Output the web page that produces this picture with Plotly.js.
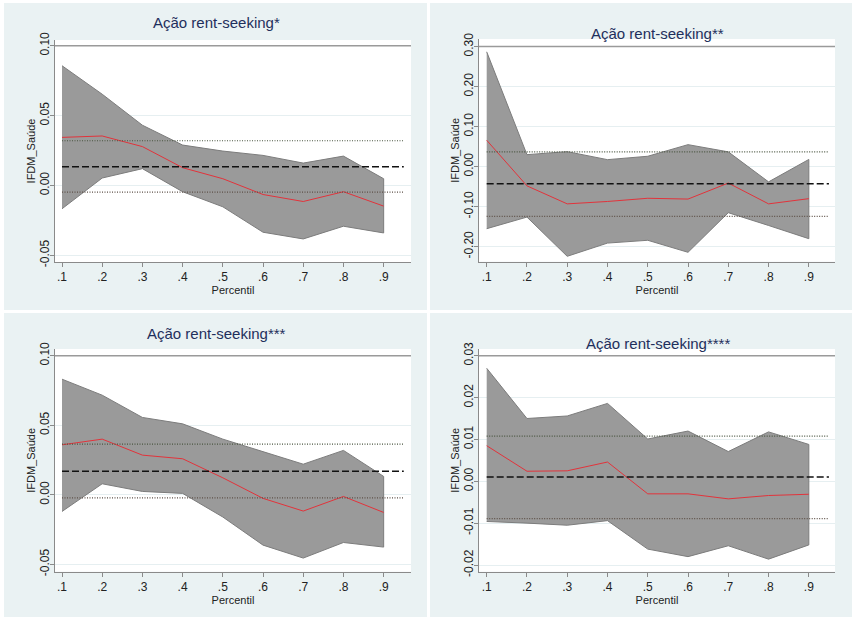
<!DOCTYPE html>
<html>
<head>
<meta charset="utf-8">
<script src="https://cdn.plot.ly/plotly-3.0.1.min.js"></script>
<style>html,body{margin:0;padding:0;background:#fff;}#chart{width:852px;height:617px;}</style>
</head>
<body>
<div id="chart"></div>
<script>
// ---- data ----
const pct = [0.1, 0.2, 0.3, 0.4, 0.5, 0.6, 0.7, 0.8, 0.9];
const xTickText = ['.1', '.2', '.3', '.4', '.5', '.6', '.7', '.8', '.9'];
const olsSpan = [0.1, 0.95];

const titles = ['Ação rent-seeking*', 'Ação rent-seeking**', 'Ação rent-seeking***', 'Ação rent-seeking****'];

// Panel 1
const coef1  = [0.0344, 0.0354, 0.0278, 0.0127, 0.0048, -0.0065, -0.0115, -0.0045, -0.0148];
const upper1 = [0.0857, 0.0653, 0.0431, 0.0289, 0.0246, 0.0215, 0.0160, 0.0210, 0.0048];
const lower1 = [-0.0167, 0.0053, 0.0120, -0.0045, -0.0153, -0.0335, -0.0383, -0.0292, -0.0340];
const ols1 = [0.0320, 0.0134, -0.0048]; // upper CI, estimate, lower CI
const yTicks1 = [-0.05, 0.00, 0.05, 0.10];
const yTickText1 = ['-0.05', '0.00', '0.05', '0.10'];

// Panel 2
const coef2  = [0.066, -0.048, -0.093, -0.087, -0.079, -0.081, -0.041, -0.093, -0.080];
const upper2 = [0.287, 0.030, 0.0375, 0.0175, 0.026, 0.055, 0.037, -0.038, 0.018];
const lower2 = [-0.155, -0.126, -0.224, -0.191, -0.184, -0.214, -0.115, -0.147, -0.180];
const ols2 = [0.037, -0.043, -0.124];
const yTicks2 = [-0.20, -0.10, 0.00, 0.10, 0.20, 0.30];
const yTickText2 = ['-0.20', '-0.10', '0.00', '0.10', '0.20', '0.30'];

// Panel 3
const coef3  = [0.0359, 0.0400, 0.0285, 0.0259, 0.0122, -0.0026, -0.0117, -0.0012, -0.0127];
const upper3 = [0.0831, 0.0716, 0.0556, 0.0510, 0.0400, 0.0311, 0.0220, 0.0319, 0.0132];
const lower3 = [-0.0120, 0.0079, 0.0024, 0.0010, -0.0160, -0.0362, -0.0455, -0.0343, -0.0376];
const ols3 = [0.0364, 0.0170, -0.0022];
const yTicks3 = [-0.05, 0.00, 0.05, 0.10];
const yTickText3 = ['-0.05', '0.00', '0.05', '0.10'];

// Panel 4
const coef4  = [0.0085, 0.0024, 0.0025, 0.0046, -0.0030, -0.0030, -0.0042, -0.0034, -0.0031];
const upper4 = [0.0270, 0.0150, 0.0156, 0.0186, 0.0101, 0.0120, 0.0071, 0.0118, 0.0088];
const lower4 = [-0.0096, -0.0100, -0.0105, -0.0094, -0.0162, -0.0180, -0.0154, -0.0186, -0.0152];
const ols4 = [0.0108, 0.0010, -0.0089];
const yTicks4 = [-0.02, -0.01, 0.00, 0.01, 0.02, 0.03];
const yTickText4 = ['-0.02', '-0.01', '0.00', '0.01', '0.02', '0.03'];

const topLine = [0.10, 0.30, 0.10, 0.03];

// ---- layout helpers ----
const W = 852, H = 617;
const panels = [
  {coef: coef1, up: upper1, lo: lower1, ols: ols1, yt: yTicks1, ytt: yTickText1,
   px: [55, 411], py: [40, 262], yr: [-0.0548, 0.1041], xr: [0.0826, 0.968], tx: 216.7, ty: 23},
  {coef: coef2, up: upper2, lo: lower2, ols: ols2, yt: yTicks2, ytt: yTickText2,
   px: [479, 835], py: [39, 261.7], yr: [-0.2375, 0.319], xr: [0.0809, 0.965], tx: 657.7, ty: 33},
  {coef: coef3, up: upper3, lo: lower3, ols: ols3, yt: yTicks3, ytt: yTickText3,
   px: [55, 411], py: [349, 571.7], yr: [-0.0553, 0.1048], xr: [0.0826, 0.968], tx: 216.7, ty: 333},
  {coef: coef4, up: upper4, lo: lower4, ols: ols4, yt: yTicks4, ytt: yTickText4,
   px: [479, 835], py: [349, 571.7], yr: [-0.0216, 0.0316], xr: [0.0809, 0.965], tx: 657.7, ty: 343}
];

const FONT = 'Liberation Sans, Arial, sans-serif';
const traces = [];
const layout = {
  width: W, height: H,
  margin: {l: 0, r: 0, t: 0, b: 0},
  paper_bgcolor: '#eaf2f3',
  plot_bgcolor: '#ffffff',
  showlegend: false,
  font: {family: FONT, size: 12, color: '#222'},
  shapes: [],
  annotations: []
};

panels.forEach((p, i) => {
  const n = i + 1;
  const xa = 'x' + (n === 1 ? '' : n), ya = 'y' + (n === 1 ? '' : n);
  const xk = 'xaxis' + (n === 1 ? '' : n), yk = 'yaxis' + (n === 1 ? '' : n);

  // CI band
  traces.push({
    x: pct.concat(pct.slice().reverse()),
    y: p.up.concat(p.lo.slice().reverse()),
    xaxis: xa, yaxis: ya, type: 'scatter', mode: 'lines',
    fill: 'toself', fillcolor: '#9a9a9a',
    line: {color: '#7c7c7c', width: 1}, hoverinfo: 'skip'
  });
  // quantile estimates
  traces.push({
    x: pct, y: p.coef, xaxis: xa, yaxis: ya, type: 'scatter', mode: 'lines',
    line: {color: '#e2333b', width: 1}
  });
  // OLS upper CI (dotted)
  traces.push({
    x: olsSpan, y: [p.ols[0], p.ols[0]], xaxis: xa, yaxis: ya, type: 'scatter', mode: 'lines',
    line: {color: '#4a5540', width: 1.2, dash: '1px,1.5px'}
  });
  // OLS lower CI (dotted)
  traces.push({
    x: olsSpan, y: [p.ols[2], p.ols[2]], xaxis: xa, yaxis: ya, type: 'scatter', mode: 'lines',
    line: {color: '#5e5048', width: 1.2, dash: '1px,1.5px'}
  });
  // OLS estimate (dashed)
  traces.push({
    x: olsSpan, y: [p.ols[1], p.ols[1]], xaxis: xa, yaxis: ya, type: 'scatter', mode: 'lines',
    line: {color: '#111111', width: 1.5, dash: '7px,3px'}
  });

  layout[xk] = {
    domain: [p.px[0] / W, p.px[1] / W],
    anchor: ya, range: p.xr,
    tickvals: pct, ticktext: xTickText,
    showgrid: false, zeroline: false,
    showline: true, linecolor: '#8a8a8a', linewidth: 1,
    ticks: 'outside', ticklen: 4, tickcolor: '#8a8a8a',
    tickfont: {size: 12, color: '#222'},
    title: {text: 'Percentil', font: {size: 11, color: '#222'}, standoff: 0}
  };
  layout[yk] = {
    domain: [1 - p.py[1] / H, 1 - p.py[0] / H],
    anchor: xa, range: p.yr,
    tickvals: p.yt, ticktext: p.ytt, tickangle: -90,
    ticklabelstandoff: -4,
    showgrid: true, gridcolor: '#e6eff1', gridwidth: 1, zeroline: false,
    showline: true, linecolor: '#8a8a8a', linewidth: 1,
    ticks: 'outside', ticklen: 4, tickcolor: '#8a8a8a',
    tickfont: {size: 12, color: '#222'},
    title: {text: 'IFDM_Saúde', font: {size: 11, color: '#222'}, standoff: 0}
  };

  // darker line at the top tick
  layout.shapes.push({
    type: 'line', xref: xa + ' domain', yref: ya, x0: 0, x1: 1,
    y0: topLine[i], y1: topLine[i], line: {color: '#9a9a9a', width: 1.5}
  });

  layout.annotations.push({
    text: titles[i], xref: 'paper', yref: 'paper',
    x: p.tx / W, y: 1 - p.ty / H, xanchor: 'center', yanchor: 'middle',
    showarrow: false, font: {size: 15, color: '#1f2f5c', family: FONT}
  });
});

// white separators between panels
layout.shapes.push(
  {type: 'rect', xref: 'paper', yref: 'paper', x0: 427 / W, x1: 430 / W, y0: 0, y1: 1,
   fillcolor: '#ffffff', line: {width: 0}},
  {type: 'rect', xref: 'paper', yref: 'paper', x0: 0, x1: 1, y0: 1 - 313 / H, y1: 1 - 310 / H,
   fillcolor: '#ffffff', line: {width: 0}},
  {type: 'rect', xref: 'paper', yref: 'paper', x0: 0, x1: 1, y0: 1 - 3 / H, y1: 1,
   fillcolor: '#ffffff', line: {width: 0}},
  {type: 'rect', xref: 'paper', yref: 'paper', x0: 0, x1: 4 / W, y0: 0, y1: 1,
   fillcolor: '#ffffff', line: {width: 0}}
);

Plotly.newPlot('chart', traces, layout, {displayModeBar: false, staticPlot: true});
</script>
</body>
</html>
